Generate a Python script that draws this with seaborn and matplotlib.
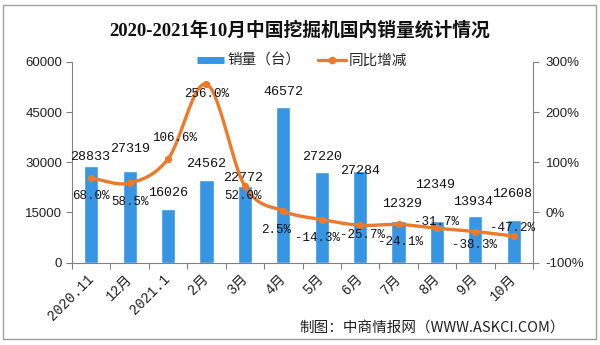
import numpy as np
import pandas as pd
import matplotlib
matplotlib.use("Agg")
import matplotlib.pyplot as plt
import seaborn as sns
from matplotlib.patches import Rectangle
from matplotlib.lines import Line2D

# ---- data ----
months = ["2020.11", "12月", "2021.1", "2月", "3月", "4月", "5月", "6月",
          "7月", "8月", "9月", "10月"]
sales = [28833, 27319, 16026, 24562, 22772, 46572, 27220, 27284,
         12329, 12349, 13934, 12608]
yoy = [68.0, 58.5, 106.6, 256.0, 52.0, 2.5, -14.3, -25.7, -24.1, -31.7, -38.3, -47.2]

sales_ticks = [0, 15000, 30000, 45000, 60000]
pct_ticks = [-100, 0, 100, 200, 300]
pct_tick_labels = ["-100%", "0%", "100%", "200%", "300%"]

title = "2020-2021年10月中国挖掘机国内销量统计情况"
source = "制图：中商情报网（WWW.ASKCI.COM）"
bar_name = "销量（台）"
line_name = "同比增减"

# label nudges in pixels (dx, dy up) relative to bar top / line marker
bar_label_nudge = [(-1, 9), (0, 22), (0, 16), (0, 16), (-2, 8), (0, 15),
                   (0, 15), (0, 0), (4, 17), (-2, 36), (-2, 14), (-2, 26)]
pct_label_nudge = [(0, -18), (0, -19), (7, 21), (0, -10), (-2, -10), (-7, -19),
                   (-4, -18), (2, -10), (2, -18), (0, 6), (-1, -13), (-1, 8)]

BLUE = "#3796e3"
ORANGE = "#ec7a2c"
AXIS = "#808080"

sns.set_theme(style="white")
plt.rcParams["font.family"] = ["Liberation Sans", "Noto Sans CJK SC"]

fig = plt.figure(figsize=(6.0, 3.45), dpi=100)
ax = fig.add_axes([72 / 600, 1 - 262.5 / 345, (533 - 72) / 600, (262.5 - 62) / 345])

df = pd.DataFrame({"month": months, "sales": sales, "yoy": yoy})
sns.barplot(data=df, x="month", y="sales", order=months, color=BLUE,
            saturation=1, width=0.37, ax=ax, zorder=2)
ax.set_xlim(-0.5, len(months) - 0.5)
ax.set_ylim(0, 60000)
ax.set_yticks(sales_ticks)
ax.set_yticklabels([str(t) for t in sales_ticks])
ax.set_xlabel("")
ax.set_ylabel("")

mono = ["Liberation Mono", "Noto Sans CJK SC"]
ax.set_xticks(range(len(months)))
ax.set_xticklabels(months, rotation=45, ha="right", va="center",
                   rotation_mode="anchor", family=mono, fontsize=10,
                   color="#222222")
ax.set_xticks(np.arange(-0.5, len(months), 1), minor=True)
ax.tick_params(axis="x", which="major", length=0, pad=10)
ax.tick_params(axis="x", which="minor", length=4, width=0.8, color=AXIS,
               direction="out", bottom=True)
ax.tick_params(axis="y", length=4, width=0.8, color=AXIS, direction="out",
               labelsize=9.5, labelcolor="#222222", pad=3, left=True)

for s in ["top", "right"]:
    ax.spines[s].set_visible(False)
for s in ["left", "bottom"]:
    ax.spines[s].set_color(AXIS)
    ax.spines[s].set_linewidth(0.8)

# value labels on bars
for i, v in enumerate(sales):
    dx, dy = bar_label_nudge[i]
    ax.annotate(str(v), xy=(i, v), xytext=(dx * 0.72, dy * 0.72),
                textcoords="offset points", ha="center", va="center",
                family=mono, fontsize=9.6, color="#111111", zorder=5)

# secondary axis: year-on-year change
ax2 = ax.twinx()
ax2.set_ylim(-100, 300)
ax2.set_yticks(pct_ticks)
ax2.set_yticklabels(pct_tick_labels)
ax2.tick_params(axis="y", length=4, width=0.8, color=AXIS, direction="out",
                labelsize=9.5, labelcolor="#222222", pad=5, right=True)
for s in ["top", "left", "bottom"]:
    ax2.spines[s].set_visible(False)
ax2.spines["right"].set_color(AXIS)
ax2.spines["right"].set_linewidth(0.8)
ax2.grid(False)


def smooth_curve(xs, ys, steps=24):
    xs = np.asarray(xs, float)
    ys = np.asarray(ys, float)
    m = np.gradient(ys, xs)
    px, py = [], []
    t = np.linspace(0, 1, steps, endpoint=False)
    h00 = 2 * t**3 - 3 * t**2 + 1
    h10 = t**3 - 2 * t**2 + t
    h01 = -2 * t**3 + 3 * t**2
    h11 = t**3 - t**2
    for i in range(len(xs) - 1):
        d = xs[i + 1] - xs[i]
        px.append(xs[i] + t * d)
        py.append(h00 * ys[i] + h10 * d * m[i] + h01 * ys[i + 1] + h11 * d * m[i + 1])
    px.append([xs[-1]])
    py.append([ys[-1]])
    return np.concatenate(px), np.concatenate(py)


xpos = np.arange(len(months))
cx, cy = smooth_curve(xpos, yoy)
ax2.plot(cx, cy, color=ORANGE, lw=2.4, zorder=3, solid_capstyle="round")
sns.scatterplot(x=xpos, y=yoy, ax=ax2, color=ORANGE, s=28, edgecolor=ORANGE,
                linewidth=0, zorder=4, legend=False)

for i, v in enumerate(yoy):
    dx, dy = pct_label_nudge[i]
    ax2.annotate(f"{v:.1f}%", xy=(i, v), xytext=(dx * 0.72, dy * 0.72),
                 textcoords="offset points", ha="center", va="center",
                 family=mono, fontsize=9.0, color="#111111", zorder=6)

# legend
handles = [
    Line2D([], [], color=BLUE, lw=5, solid_capstyle="butt"),
    Line2D([], [], color=ORANGE, lw=2.4, marker="o", markersize=4.5),
]
fig.legend(handles, [bar_name, line_name], loc="center",
           bbox_to_anchor=(0.503, 1 - 61 / 345), ncol=2, frameon=False,
           handlelength=1.9, handletextpad=0.2, columnspacing=1.2,
           prop={"family": "Noto Sans CJK SC", "size": 10.5})

# title and source
fig.text(0.5, 1 - 30 / 345, title, ha="center", va="center",
         family=["Liberation Serif", "Noto Sans CJK SC"], fontweight="bold",
         fontsize=13.5, color="#111111")
fig.text(565 / 600, 1 - 328 / 345, source, ha="right", va="center",
         family=["Noto Sans CJK SC", "DejaVu Sans"], fontsize=10.5,
         color="#222222")

# outer frame
fig.add_artist(Rectangle((3 / 600, 1 - 339 / 345), 593 / 600, 334 / 345,
                         transform=fig.transFigure, fill=False,
                         edgecolor="#a0a0a0", lw=1))

fig.savefig("out.png", dpi=100)
